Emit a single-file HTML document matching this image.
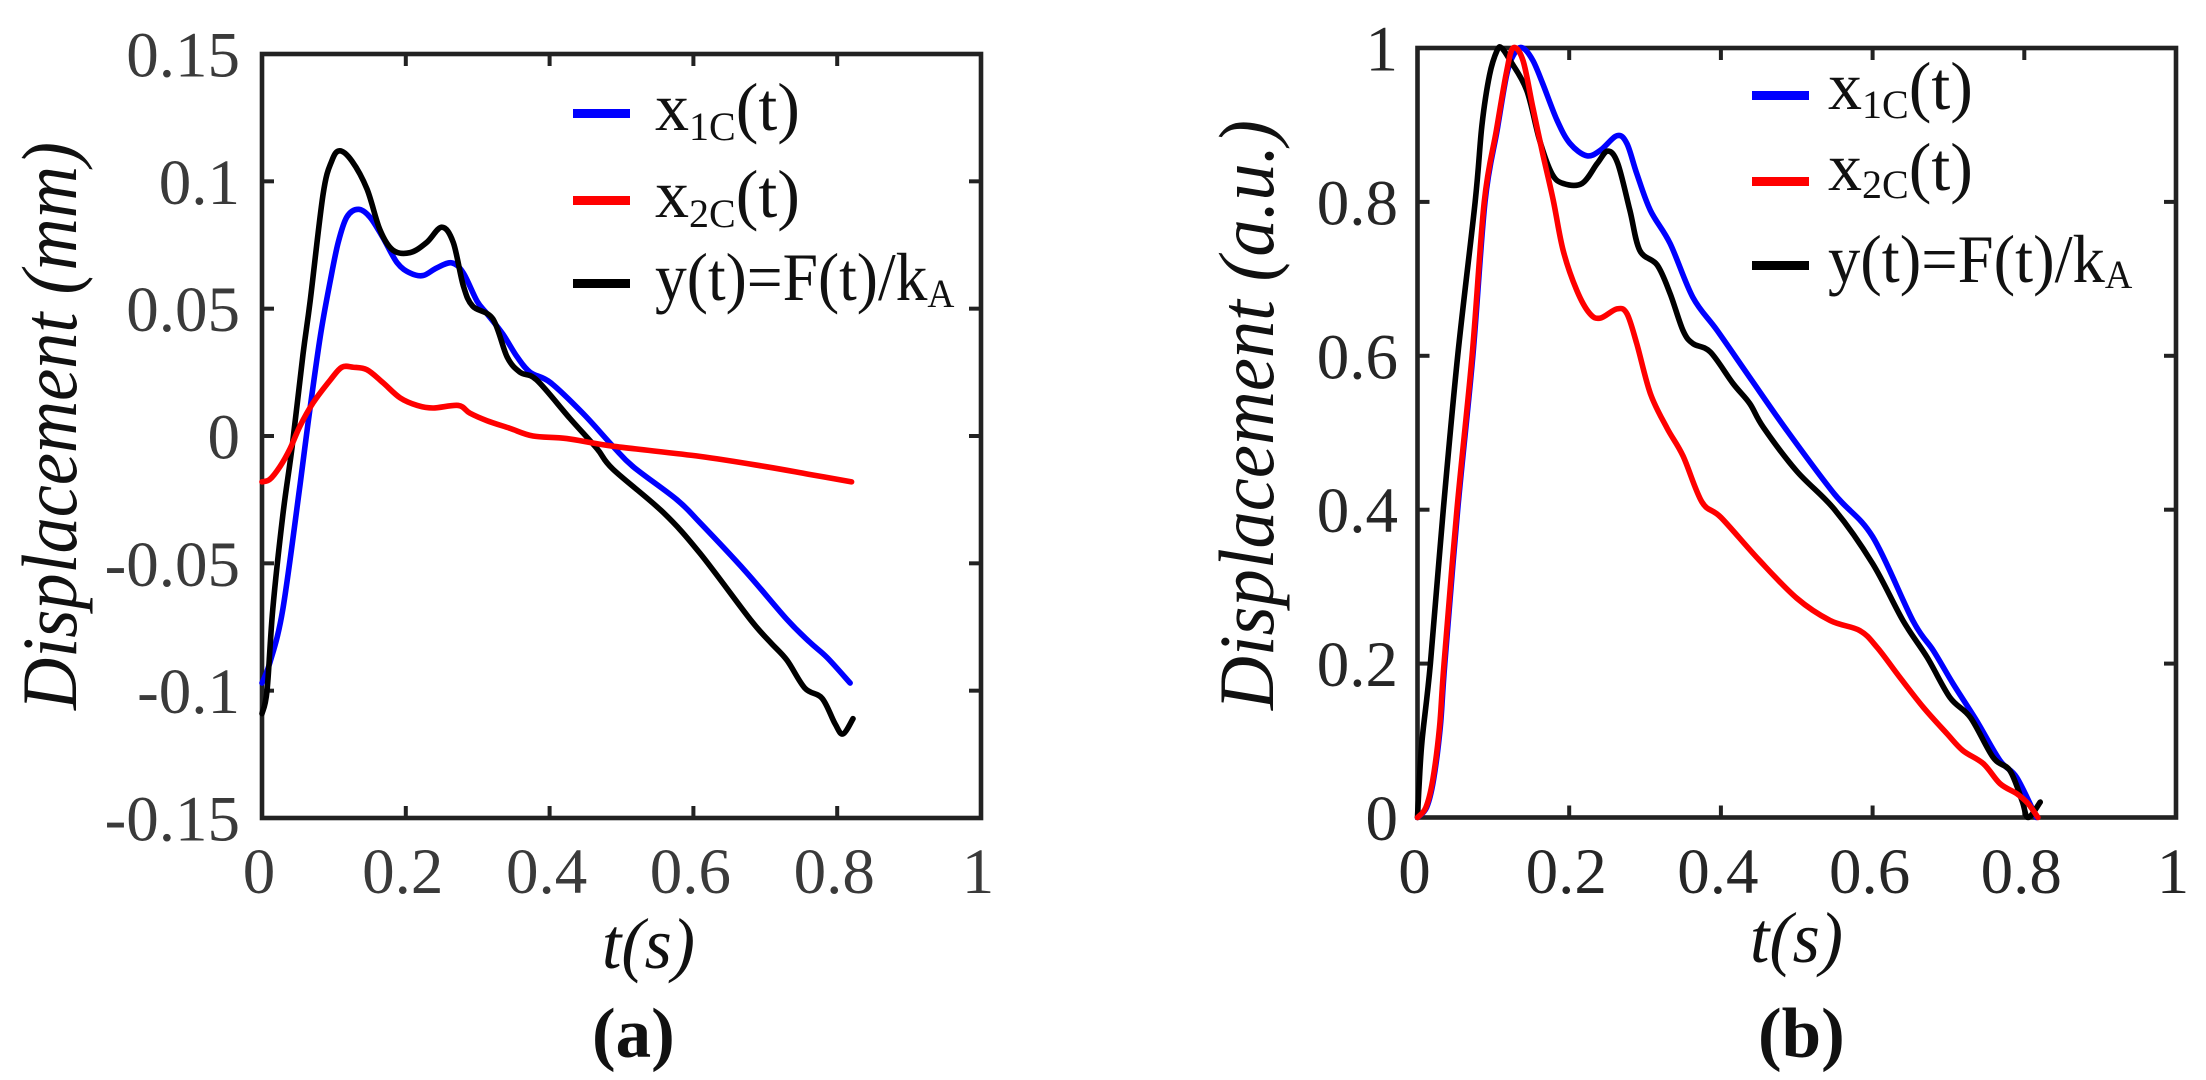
<!DOCTYPE html>
<html lang="en">
<head>
<meta charset="utf-8">
<title>Displacement charts</title>
<style>
html,body{margin:0;padding:0;background:#fff;width:2206px;height:1080px;overflow:hidden}
svg{display:block}
text{font-family:"Liberation Serif",serif}
.tick-label{font-size:65px;fill:#333}
.title{font-size:78px;font-style:italic;fill:#111}
.xtitle{font-size:72px;font-style:italic;fill:#111}
.leg{font-size:68px;fill:#111}
.sub{font-size:40px}
.cap{font-size:71px;font-weight:bold;fill:#111}
</style>
</head>
<body>
<svg id="figure" xmlns="http://www.w3.org/2000/svg" width="2206" height="1080" viewBox="0 0 2206 1080">
  <rect width="2206" height="1080" fill="#fff"/>
  <g id="panelA"></g>
  <g id="panelB"></g>

  <text class="title" transform="translate(76,710) rotate(-90)" textLength="568" lengthAdjust="spacingAndGlyphs">Displacement (mm)</text>
  <text class="xtitle" x="602" y="968" textLength="93" lengthAdjust="spacingAndGlyphs">t(s)</text>
  <text class="cap" x="592" y="1057">(a)</text>

  <text class="title" transform="translate(1273,710) rotate(-90)" textLength="590" lengthAdjust="spacingAndGlyphs">Displacement (a.u.)</text>
  <text class="xtitle" x="1750" y="962" textLength="93" lengthAdjust="spacingAndGlyphs">t(s)</text>
  <text class="cap" x="1758" y="1057">(b)</text>

  <g>
    <rect x="573" y="109" width="57" height="9" fill="#0000ff"/>
    <text class="leg" x="655" y="130">x<tspan class="sub" dy="10">1C</tspan><tspan dy="-10">(t)</tspan></text>
    <rect x="573" y="196" width="57" height="9" fill="#ff0000"/>
    <text class="leg" x="655" y="217">x<tspan class="sub" dy="10">2C</tspan><tspan dy="-10">(t)</tspan></text>
    <rect x="573" y="279" width="57" height="9" fill="#000"/>
    <text class="leg" transform="translate(655,300) scale(.935,1)">y(t)=F(t)/k<tspan class="sub" dy="7">A</tspan></text>
  </g>

  <g>
    <rect x="1752" y="91" width="57" height="9" fill="#0000ff"/>
    <text class="leg" x="1828" y="109">x<tspan class="sub" dy="9">1C</tspan><tspan dy="-9">(t)</tspan></text>
    <rect x="1752" y="177" width="57" height="9" fill="#ff0000"/>
    <text class="leg" x="1828" y="190">x<tspan class="sub" dy="8">2C</tspan><tspan dy="-8">(t)</tspan></text>
    <rect x="1752" y="261" width="57" height="9" fill="#000"/>
    <text class="leg" transform="translate(1828,282) scale(.95,1)">y(t)=F(t)/k<tspan class="sub" dy="6">A</tspan></text>
  </g>
</svg>

<script>
// ---------- tick labels ----------
const xTicks = [0, 0.2, 0.4, 0.6, 0.8, 1];
const xTickLabels = ["0", "0.2", "0.4", "0.6", "0.8", "1"];
const yTicksA = [-0.15, -0.1, -0.05, 0, 0.05, 0.1, 0.15];
const yTickLabelsA = ["-0.15", "-0.1", "-0.05", "0", "0.05", "0.1", "0.15"];
const yTicksB = [0, 0.2, 0.4, 0.6, 0.8, 1];
const yTickLabelsB = ["0", "0.2", "0.4", "0.6", "0.8", "1"];

// ---------- panel (a) series ----------
const tBlueA = [0,.011,.029,.053,.064,.081,.095,.106,.118,.134,.150,.168,.188,.206,.224,.243,.264,.280,.299,.313,.335,.355,.373,.401,.446,.488,.516,.577,.609,.672,.730,.762,.786,.818];
const yBlueA = [-.097,-.089,-.068,-.019,.005,.039,.061,.076,.086,.089,.086,.078,.068,.064,.063,.066,.068,.064,.053,.048,.040,.031,.025,.021,.009,-.004,-.012,-.025,-.034,-.053,-.072,-.081,-.087,-.097];
const tRedA = [0,.011,.025,.039,.053,.071,.095,.111,.127,.146,.168,.192,.216,.238,.273,.289,.313,.345,.377,.424,.488,.609,.700,.760,.820];
const yRedA = [-.018,-.017,-.012,-.005,.004,.013,.022,.027,.027,.026,.021,.015,.012,.011,.012,.009,.006,.003,0,-.001,-.004,-.008,-.012,-.015,-.018];
const tBlackA = [0,.007,.015,.029,.042,.057,.067,.085,.097,.108,.125,.146,.164,.182,.206,.229,.250,.266,.280,.293,.321,.341,.359,.382,.428,.466,.488,.558,.609,.679,.707,.730,.755,.779,.797,.808,.822];
const yBlackA = [-.109,-.100,-.068,-.031,-.004,.032,.053,.095,.108,.112,.108,.097,.081,.073,.072,.076,.082,.076,.059,.051,.046,.031,.025,.022,.007,-.005,-.013,-.030,-.046,-.072,-.081,-.088,-.099,-.103,-.113,-.117,-.111];

// ---------- panel (b) series ----------
const tBlueB = [0,.012,.021,.030,.036,.053,.073,.089,.105,.118,.129,.139,.152,.165,.184,.201,.223,.241,.263,.276,.289,.307,.333,.363,.395,.438,.487,.550,.600,.653,.680,.706,.737,.768,.790,.816];
const yBlueB = [0,.013,.048,.117,.200,.400,.600,.800,.893,.967,.995,1,.984,.954,.906,.876,.860,.867,.886,.876,.837,.789,.746,.676,.633,.572,.503,.420,.365,.256,.217,.174,.126,.074,.052,0];
const tRedB = [0,.011,.020,.029,.035,.052,.072,.088,.104,.117,.126,.139,.152,.165,.179,.192,.210,.227,.241,.263,.276,.289,.307,.329,.350,.375,.400,.450,.500,.544,.583,.606,.636,.667,.698,.719,.746,.768,.790,.805,.818];
const yRedB = [0,.013,.048,.117,.200,.400,.600,.800,.893,.967,1,.984,.923,.863,.802,.737,.685,.655,.649,.661,.655,.616,.551,.506,.470,.410,.390,.335,.285,.256,.243,.221,.182,.143,.109,.087,.070,.044,.031,.018,0];
const tBlackB = [0,.002,.006,.017,.034,.053,.076,.085,.095,.105,.111,.122,.144,.161,.177,.192,.217,.237,.251,.264,.280,.293,.316,.333,.350,.363,.386,.416,.438,.456,.500,.550,.600,.640,.672,.702,.729,.759,.781,.797,.805,.821];
const yBlackB = [0,.040,.100,.200,.400,.600,.800,.900,.965,.997,1,.984,.945,.880,.837,.824,.824,.850,.866,.850,.789,.737,.718,.681,.633,.616,.605,.564,.538,.507,.450,.400,.330,.256,.208,.156,.130,.078,.061,.022,0,.020];

const NS = "http://www.w3.org/2000/svg";

function make(parent, tag, attrs) {
  const el = document.createElementNS(NS, tag);
  for (const k in attrs) el.setAttribute(k, attrs[k]);
  parent.appendChild(el);
  return el;
}

function linearScale(d0, d1, r0, r1) {
  return v => r0 + (v - d0) / (d1 - d0) * (r1 - r0);
}

function smoothPath(pts) {
  let d = "M" + pts[0][0].toFixed(2) + " " + pts[0][1].toFixed(2);
  for (let i = 0; i < pts.length - 1; i++) {
    const p0 = pts[Math.max(i - 1, 0)], p1 = pts[i], p2 = pts[i + 1], p3 = pts[Math.min(i + 2, pts.length - 1)];
    const c1x = p1[0] + (p2[0] - p0[0]) / 6, c1y = p1[1] + (p2[1] - p0[1]) / 6;
    const c2x = p2[0] - (p3[0] - p1[0]) / 6, c2y = p2[1] - (p3[1] - p1[1]) / 6;
    d += "C" + c1x.toFixed(2) + " " + c1y.toFixed(2) + " " + c2x.toFixed(2) + " " + c2y.toFixed(2) + " " + p2[0].toFixed(2) + " " + p2[1].toFixed(2);
  }
  return d;
}

function drawSeries(g, sx, sy, ts, ys, color, name) {
  const pts = ts.map((t, i) => [sx(t), sy(ys[i])]);
  const path = make(g, "path", {d: smoothPath(pts), fill: "none", stroke: color, "stroke-width": 5.6, "stroke-linejoin": "round", "stroke-linecap": "round"});
  
  
}

function drawPanel(g, box, yTicks, yLabels, yMin, yMax, suffix, labelRight, tickColor) {
  const sx = linearScale(0, 1, box.l, box.r);
  const sy = linearScale(yMin, yMax, box.b, box.t);
  const ink = "#222";

  xTicks.forEach((v, i) => {
    const x = sx(v);
    if (i > 0 && i < xTicks.length - 1) {
      const tb = make(g, "line", {x1: x, x2: x, y1: box.b, y2: box.b - 12, stroke: ink, "stroke-width": 4});
      
      
      const tt = make(g, "line", {x1: x, x2: x, y1: box.t, y2: box.t + 12, stroke: ink, "stroke-width": 4});
      
      
    }
    const lab = make(g, "text", {x: x - 3, y: 893, "text-anchor": "middle", class: "tick-label", style: "fill:" + tickColor});
    
    
    lab.textContent = xTickLabels[i];
  });

  yTicks.forEach((v, i) => {
    const y = sy(v);
    if (i > 0 && i < yTicks.length - 1) {
      const tl = make(g, "line", {x1: box.l, x2: box.l + 12, y1: y, y2: y, stroke: ink, "stroke-width": 4});
      
      
      const tr = make(g, "line", {x1: box.r, x2: box.r - 12, y1: y, y2: y, stroke: ink, "stroke-width": 4});
      
      
    }
    const lab = make(g, "text", {x: labelRight, y: y + 22.5, "text-anchor": "end", class: "tick-label", style: "fill:" + tickColor});
    
    
    lab.textContent = yLabels[i];
  });

  const frame = make(g, "rect", {x: box.l, y: box.t, width: box.r - box.l, height: box.b - box.t, fill: "none", stroke: ink, "stroke-width": 4.6});
  
  
  return {sx, sy};
}

const gA = document.getElementById("panelA");
const scalesA = drawPanel(gA, {l: 262, r: 981, t: 54, b: 818}, yTicksA, yTickLabelsA, -0.15, 0.15, "-a", 240, "#3a3a3a");
drawSeries(gA, scalesA.sx, scalesA.sy, tBlueA, yBlueA, "#0000ff", "series-x1c-a");
drawSeries(gA, scalesA.sx, scalesA.sy, tBlackA, yBlackA, "#000000", "series-y-a");
drawSeries(gA, scalesA.sx, scalesA.sy, tRedA, yRedA, "#ff0000", "series-x2c-a");

const gB = document.getElementById("panelB");
const scalesB = drawPanel(gB, {l: 1417.5, r: 2176, t: 48, b: 817.5}, yTicksB, yTickLabelsB, 0, 1, "-b", 1398, "#262626");
drawSeries(gB, scalesB.sx, scalesB.sy, tBlueB, yBlueB, "#0000ff", "series-x1c-b");
drawSeries(gB, scalesB.sx, scalesB.sy, tBlackB, yBlackB, "#000000", "series-y-b");
drawSeries(gB, scalesB.sx, scalesB.sy, tRedB, yRedB, "#ff0000", "series-x2c-b");
</script>
</body>
</html>
